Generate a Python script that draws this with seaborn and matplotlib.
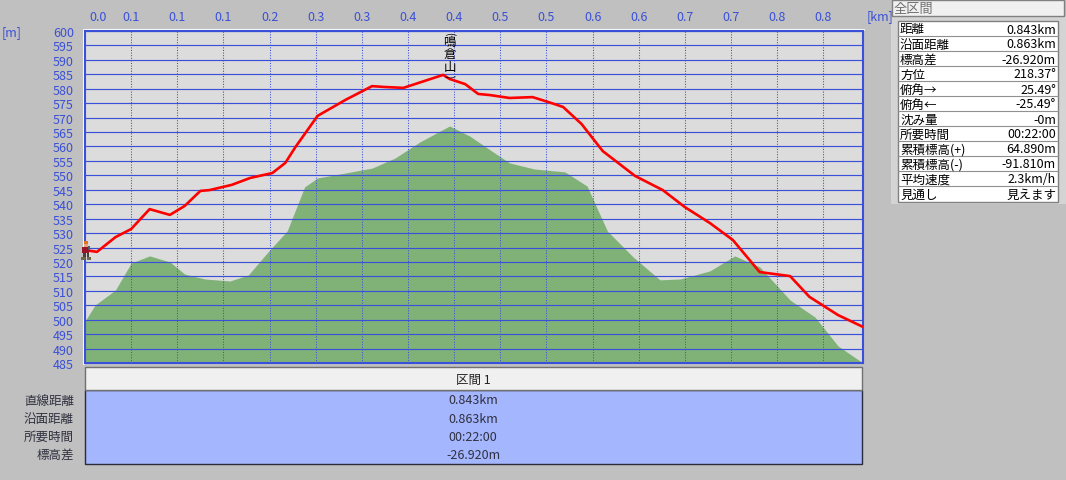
import numpy as np
import pandas as pd
import matplotlib
matplotlib.use("Agg")
import matplotlib.pyplot as plt
from matplotlib.patches import Rectangle
from matplotlib.transforms import ScaledTranslation
import seaborn as sns

# route elevation (red line)
route_km = [0.000, 0.013, 0.033, 0.050, 0.070, 0.092, 0.108, 0.125, 0.135, 0.159, 0.179, 0.203, 0.217, 0.228,
            0.252, 0.282, 0.311, 0.325, 0.345, 0.368, 0.388, 0.395, 0.412, 0.426, 0.439, 0.460, 0.485, 0.502,
            0.518, 0.538, 0.561, 0.596, 0.626, 0.650, 0.677, 0.702, 0.731, 0.764, 0.785, 0.816, 0.843]
route_m = [524.1, 523.5, 528.6, 531.4, 538.3, 536.3, 539.4, 544.6, 544.9, 546.7, 549.1, 550.8, 554.3, 559.8,
           570.6, 576.1, 580.9, 580.6, 580.3, 582.7, 584.8, 583.4, 581.6, 578.2, 577.8, 576.8, 577.1, 575.4,
           573.7, 567.8, 558.4, 549.8, 544.9, 539.0, 533.5, 527.6, 516.5, 515.1, 507.9, 501.6, 497.5]

# terrain (green area)
ground_km = [0.000, 0.011, 0.033, 0.050, 0.070, 0.092, 0.108, 0.130, 0.157, 0.177, 0.200, 0.219, 0.238, 0.252,
             0.282, 0.311, 0.336, 0.363, 0.395, 0.417, 0.439, 0.460, 0.487, 0.520, 0.544, 0.566, 0.594, 0.623,
             0.645, 0.677, 0.704, 0.731, 0.764, 0.791, 0.816, 0.843]
ground_m = [499.5, 505.1, 510.3, 519.6, 522.1, 520.0, 515.8, 514.1, 513.4, 515.5, 524.1, 530.7, 546.0, 549.1,
            550.8, 552.5, 556.0, 561.6, 567.1, 563.6, 558.8, 554.3, 552.2, 551.2, 546.3, 530.7, 521.7, 513.8,
            514.1, 516.9, 522.1, 518.3, 506.8, 500.9, 490.9, 485.0]

x_ticks = [i * 0.05 for i in range(17)]
x_labels = ["0.0", "0.1", "0.1", "0.1", "0.2", "0.3", "0.3", "0.4", "0.4", "0.5", "0.5", "0.6", "0.6", "0.7",
            "0.7", "0.8", "0.8"]
y_ticks = list(range(485, 601, 5))

peak_km = 0.395
peak_name = ["鳴", "倉", "山"]

section_title = "区間 1"
section_names = ["直線距離", "沿面距離", "所要時間", "標高差"]
section_values = ["0.843km", "0.863km", "00:22:00", "-26.920m"]

stat_names = ["距離", "沿面距離", "標高差", "方位", "俯角→", "俯角←", "沈み量", "所要時間", "累積標高(+)", "累積標高(-)",
              "平均速度", "見通し"]
stat_values = ["0.843km", "0.863km", "-26.920m", "218.37°", "25.49°", "-25.49°", "-0m", "00:22:00", "64.890m",
               "-91.810m", "2.3km/h", "見えます"]

BLUE = "#3a50d8"
W, H = 1066, 481

sns.set_theme(style="white")
plt.rcParams['font.family'] = ['Noto Sans CJK JP', 'DejaVu Sans']
plt.rcParams['font.size'] = 9

route = pd.DataFrame({"km": route_km, "m": route_m})
ground = pd.DataFrame({"km": ground_km, "m": ground_m})

fig = plt.figure(figsize=(W / 100, H / 100), dpi=100, facecolor="#c0c0c0")

# pixel-space layer for the panels round the chart
ui = fig.add_axes([0, 0, 1, 1], zorder=0)
ui.set_xlim(0, W)
ui.set_ylim(H, 0)
ui.axis("off")
ui.plot([84, 84, 864], [365, 31, 31], color="white", lw=1.5)

# section box
ui.add_patch(Rectangle((85, 391), 777, 74, fc="#a4b6fd", ec="#2a2a3a", lw=1))
ui.add_patch(Rectangle((85, 368), 777, 23, fc="#f0f0f0", ec="#707070", lw=1))
ui.text(473, 380, section_title, ha="center", va="center", color="#222222")
for i, (name, val) in enumerate(zip(section_names, section_values)):
    yy = 401 + i * 18.2
    ui.text(74, yy, name, ha="right", va="center", color="#303040")
    ui.text(473, yy, val, ha="center", va="center", color="#303040")

# stats table on the right
ui.add_patch(Rectangle((891, 17), 175, 188, fc="#d4d4d4", ec="none"))
ui.add_patch(Rectangle((892, 1), 172, 16, fc="#f0f0f0", ec="#808080", lw=1))
ui.text(894, 9, "全区間", ha="left", va="center", color="#707070", fontsize=9.5)
ui.add_patch(Rectangle((898, 22), 160, 181, fc="white", ec="#808080", lw=1))
for i, (name, val) in enumerate(zip(stat_names, stat_values)):
    yy = 30 + i * 15
    if i:
        ui.plot([898, 1058], [22 + i * 15] * 2, color="#909090", lw=0.8)
    ui.text(900, yy, name, ha="left", va="center", color="black")
    ui.text(1056, yy, val, ha="right", va="center", color="black")

ui.text(2, 33, "[m]", ha="left", va="center", color=BLUE)
ui.text(867, 17, "[km]", ha="left", va="center", color=BLUE)

# elevation chart
ax = fig.add_axes([85 / W, 1 - 364 / H, 778 / W, 332 / H], zorder=1, facecolor="#dcdcdc")
ax.fill_between(ground["km"], ground["m"], 485, color="#80b278", lw=0, zorder=1)
sns.lineplot(data=route, x="km", y="m", color="#ff0000", lw=1.9, sort=False, estimator=None, ax=ax, zorder=3)

ax.set_xlim(0, 0.843)
ax.set_ylim(485, 600)
ax.set_xlabel("")
ax.set_ylabel("")
ax.set_axisbelow("line")
ax.xaxis.tick_top()
ax.set_xticks(x_ticks, x_labels)
ax.set_yticks(y_ticks, [str(v) for v in y_ticks])
ax.tick_params(axis="both", length=0, colors=BLUE, labelsize=9)
ax.tick_params(axis="x", pad=6)
ax.tick_params(axis="y", pad=8)
ax.grid(axis="y", color=BLUE, lw=0.85, ls="-")
ax.grid(axis="x", color=BLUE, lw=0.75, ls=(0, (1, 1.5)))
for s in ax.spines.values():
    s.set_color(BLUE)
    s.set_linewidth(1.5)

first = ax.get_xticklabels()[0]
first.set_ha("left")
first.set_transform(first.get_transform() + ScaledTranslation(3 / 72, 0, fig.dpi_scale_trans))

# peak name, stacked vertically (offsets in px below the top edge), brackets are turned parens
for ch, off in zip(peak_name, [10, 23, 36]):
    ax.annotate(ch, (peak_km, 600), xytext=(0, -off * 0.72), textcoords="offset points", ha="center",
                va="center", color="black", fontsize=9, zorder=4)
for ch, off in zip(["(", ")"], [2, 45]):
    ax.annotate(ch, (peak_km, 600), xytext=(0, -off * 0.72), textcoords="offset points", ha="center",
                va="center", color="black", fontsize=7, rotation=-90, zorder=4)

# little hiker at the start of the route
hiker = np.ones((19, 10, 4))
hiker[..., 3] = 0
hiker[0:3, 3:7] = [0.90, 0.45, 0.12, 1]
hiker[3:6, 3:7] = [0.90, 0.65, 0.50, 1]
hiker[6:12, 1:8] = [0.60, 0.08, 0.15, 1]
hiker[5:9, 7:9] = [0.35, 0.35, 0.40, 1]
hiker[12:16, 2:5] = [0.30, 0.25, 0.20, 1]
hiker[12:16, 6:8] = [0.30, 0.25, 0.20, 1]
hiker[16:19, 0:4] = [0.45, 0.40, 0.30, 1]
hiker[16:19, 6:10] = [0.45, 0.40, 0.30, 1]
fig.figimage(hiker, xo=81, yo=H - 261, zorder=5, origin="upper")

fig.savefig("out.png", dpi=100, facecolor=fig.get_facecolor())
